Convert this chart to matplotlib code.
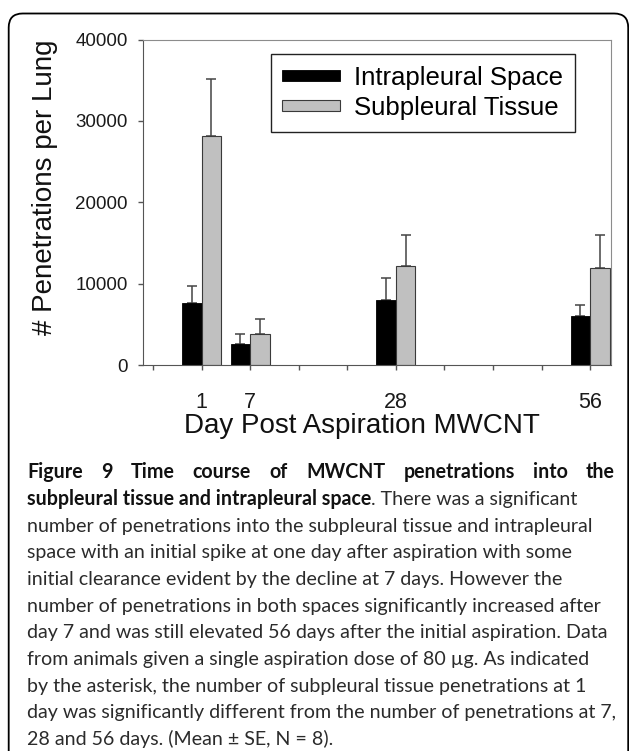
import matplotlib
matplotlib.use("Agg")
import matplotlib.pyplot as plt
import matplotlib.patches as patches
from matplotlib.transforms import IdentityTransform
import numpy as np

W, H = 629, 751

# DATA
days = ['1', '7', '28', '56']
slots = [0, 1, 4, 8]          # category slot of each day on the x axis
series = ['Intrapleural Space', 'Subpleural Tissue']
intra_mean = [7600, 2600, 8050, 6050]
intra_se = [2150, 1300, 2650, 1350]
sub_mean = [28100, 3900, 12200, 12000]
sub_se = [7000, 1750, 3850, 3950]
yticks = [0, 10000, 20000, 30000, 40000]

caption_title = 'Figure 9 Time course of MWCNT penetrations into the'
caption_title2 = 'subpleural tissue and intrapleural space'
caption_rest = '. There was a significant'
caption_lines = [
    'number of penetrations into the subpleural tissue and intrapleural',
    'space with an initial spike at one day after aspiration with some',
    'initial clearance evident by the decline at 7 days. However the',
    'number of penetrations in both spaces significantly increased after',
    'day 7 and was still elevated 56 days after the initial aspiration. Data',
    'from animals given a single aspiration dose of 80 \u00b5g. As indicated',
    'by the asterisk, the number of subpleural tissue penetrations at 1',
    'day was significantly different from the number of penetrations at 7,',
    '28 and 56 days. (Mean \u00b1 SE, N = 8).',
]

plt.rcParams['font.family'] = ['Liberation Sans', 'DejaVu Sans']

fig = plt.figure(figsize=(W / 100, H / 100), dpi=100)
fig.patch.set_facecolor('white')

# rounded frame round the whole figure (cut at right and bottom)
frame = patches.FancyBboxPatch((8.7, -30), 619.5, H - 13.5 + 30,
                               boxstyle='round,pad=0,rounding_size=14',
                               transform=IdentityTransform(), fill=False,
                               ec='black', lw=1.3)
fig.add_artist(frame)

# CHART
ax = fig.add_axes([143 / W, 1 - 365.3 / H, 468 / W, 325.8 / H])
x = np.array(slots)
ax.bar(x - 0.2, intra_mean, 0.4, color='black', edgecolor='black', lw=0.6,
       label=series[0], zorder=2)
ax.bar(x + 0.2, sub_mean, 0.4, color='#c0c0c0', edgecolor='#3a3a3a', lw=0.8,
       label=series[1], zorder=2)
ax.errorbar(x - 0.2, intra_mean, yerr=[np.zeros(len(x)), intra_se], fmt='none',
            ecolor='#444444', elinewidth=1.1, capsize=3.6, capthick=1.1, zorder=1)
ax.errorbar(x + 0.2, sub_mean, yerr=[np.zeros(len(x)), sub_se], fmt='none',
            ecolor='#444444', elinewidth=1.1, capsize=3.6, capthick=1.1, zorder=1)

ax.set_xlim(-1.207, 8.43)
ax.set_ylim(0, 40000)
xt = list(range(-1, 9))
xl = [''] * len(xt)
for s, d in zip(slots, days):
    xl[xt.index(s)] = d
ax.set_xticks(xt)
ax.set_xticklabels(xl)
ax.set_yticks(yticks)
ax.set_yticklabels([str(v) for v in yticks])

ax.tick_params(axis='x', direction='out', length=3.4, width=1, color='#555555',
               pad=15.5, labelsize=15.5, labelcolor='#1a1a1a')
ax.tick_params(axis='y', direction='out', length=3.4, width=1, color='#555555',
               pad=7.4, labelsize=13.5, labelcolor='#1a1a1a')
for side in ['left', 'bottom']:
    ax.spines[side].set_color('#555555')
for side in ['top', 'right']:
    ax.spines[side].set_color('#8c8c8c')

fig.text(45 / W, 1 - 187.5 / H, '# Penetrations per Lung', rotation=90,
         ha='center', va='center', fontsize=20, color='#111111')
fig.text(361.5 / W, 1 - 433 / H, 'Day Post Aspiration MWCNT', ha='center',
         va='baseline', fontsize=20, color='#111111')

leg = ax.legend(loc='upper right', bbox_to_anchor=(0.923, 0.9555),
                borderaxespad=0, fontsize=18.5, frameon=True, fancybox=False,
                edgecolor='#222222', framealpha=1, handlelength=2.26,
                handleheight=0.31, handletextpad=0.55, labelspacing=0.25,
                borderpad=0.45)
leg.get_frame().set_linewidth(1.0)

# CAPTION
renderer = fig.canvas.get_renderer()
cap_font = ['Lato', 'DejaVu Sans']


def text_w(s, size, weight='normal'):
    t = fig.text(0, 0, s, fontsize=size, family=cap_font, weight=weight)
    w = t.get_window_extent(renderer).width
    t.remove()
    return w


left, right = 27, 615
size = 10 * 565 / text_w(caption_lines[0], 10)
base0, step = 478.3, 26.67

# first line: bold, justified
words = caption_title.split()
ws = [text_w(w, size, 'bold') for w in words]
gap = (right - left - sum(ws)) / (len(words) - 1)
xpos = left
for w, wd in zip(words, ws):
    fig.text(xpos / W, 1 - base0 / H, w, fontsize=size, family=cap_font,
             weight='bold', va='baseline', color='#111111')
    xpos += wd + gap

# second line: bold part, then regular text
b = base0 + step
fig.text(left / W, 1 - b / H, caption_title2, fontsize=size, family=cap_font,
         weight='bold', va='baseline', color='#111111')
wb = text_w(caption_title2, size, 'bold')
fig.text((left + wb) / W, 1 - b / H, caption_rest, fontsize=size,
         family=cap_font, va='baseline', color='#2b2b2b')

for i, line in enumerate(caption_lines):
    b = base0 + step * (i + 2)
    fig.text(left / W, 1 - b / H, line, fontsize=size, family=cap_font,
             va='baseline', color='#2b2b2b')

fig.savefig('out.png', dpi=100)
